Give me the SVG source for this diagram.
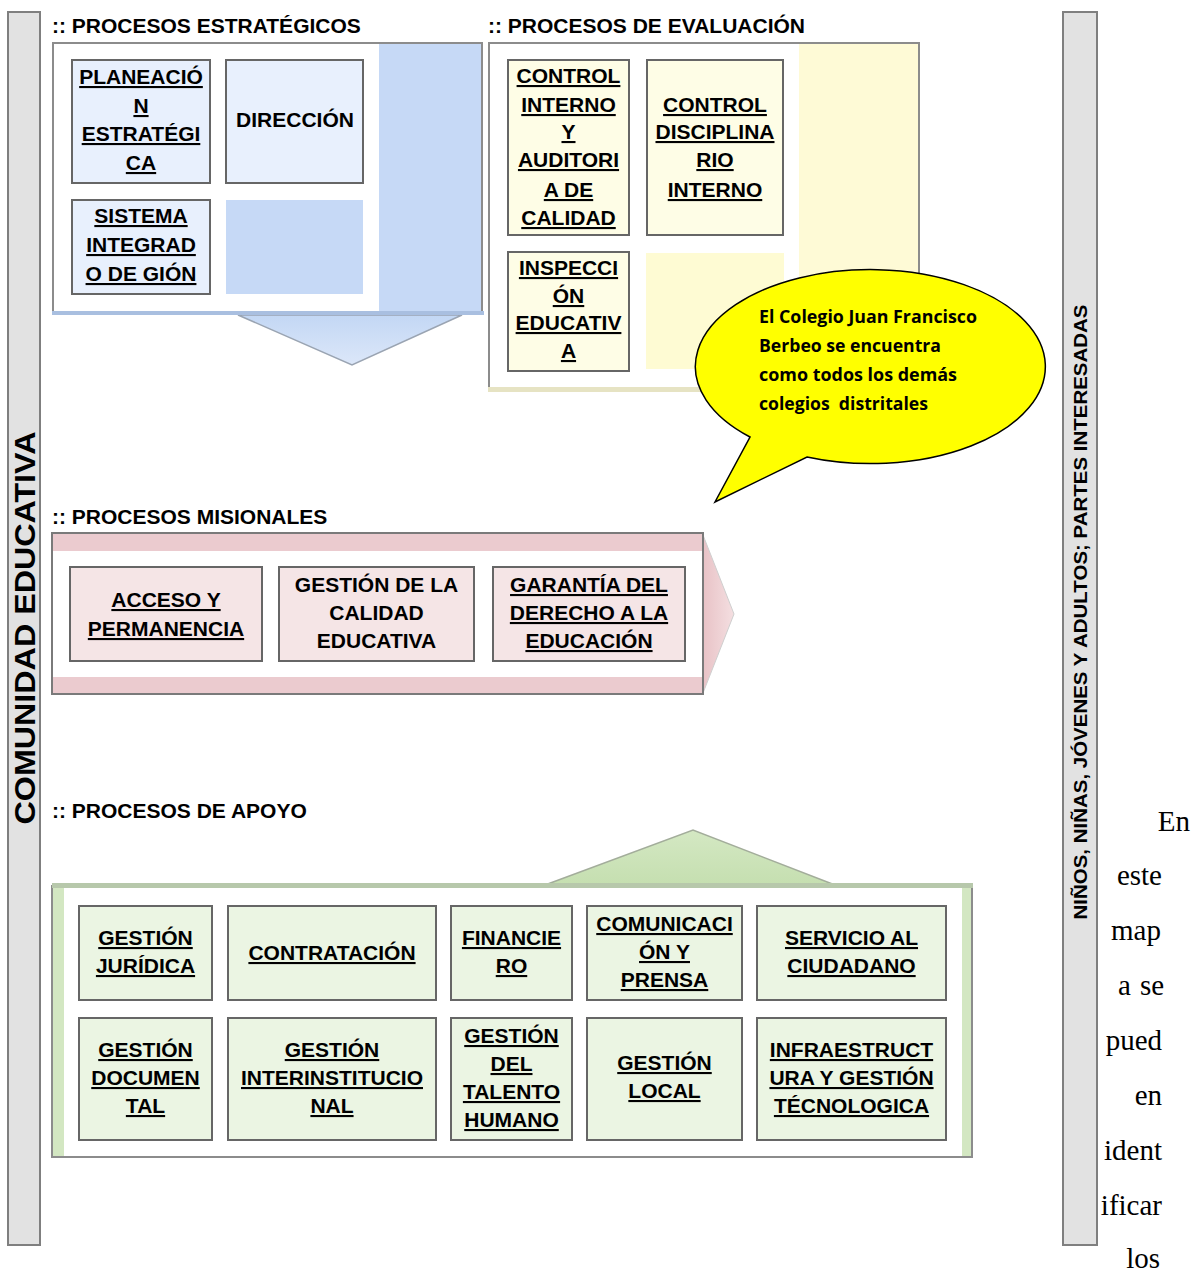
<svg xmlns="http://www.w3.org/2000/svg" width="1193" height="1273" viewBox="0 0 1193 1273">
<defs>
<style>
text{font-family:"Liberation Sans",Arial,Helvetica,sans-serif;font-weight:bold;fill:#000}
.t{font-size:21px;text-anchor:middle}
.u{text-decoration:underline}
.h{font-size:21px}
.box{stroke:#666;stroke-width:2}
.blue{fill:#e8f0fd}
.yel{fill:#fefde6}
.pink{fill:#f5e5e6}
.grn{fill:#ebf5e3}
.frame{fill:#fff;stroke:#8c8c8c;stroke-width:2}
.bar{fill:#e2e2e2;stroke:#7f7f7f;stroke-width:2}
.call{font-family:"Open Sans",Lato,sans-serif;font-weight:bold;font-size:17px;white-space:pre}
.para{font-family:"Liberation Serif","Times New Roman",serif;font-weight:normal;font-size:29px;text-anchor:end}
</style>
<linearGradient id="gBlue" x1="0" y1="0" x2="0" y2="1"><stop offset="0" stop-color="#c3d7f4"/><stop offset="1" stop-color="#dce7f9"/></linearGradient>
<linearGradient id="gPink" x1="0" y1="0" x2="1" y2="0"><stop offset="0" stop-color="#e8c2c6"/><stop offset="1" stop-color="#f4dfe1"/></linearGradient>
<linearGradient id="gGreen" x1="0" y1="0" x2="0" y2="1"><stop offset="0" stop-color="#d4e8c3"/><stop offset="1" stop-color="#c5dfb0"/></linearGradient>
</defs>
<rect width="1193" height="1273" fill="#fff"/>

<!-- side bars -->
<g id="bar-comunidad">
<rect class="bar" x="8" y="12" width="32" height="1233"/>
<text transform="translate(35,628) rotate(-90)" style="font-size:30px;text-anchor:middle" textLength="393" lengthAdjust="spacingAndGlyphs">COMUNIDAD EDUCATIVA</text>
</g>
<g id="bar-partes">
<rect class="bar" x="1063" y="12" width="34" height="1233"/>
<text transform="translate(1087,612) rotate(-90)" style="font-size:18px;text-anchor:middle" textLength="615" lengthAdjust="spacingAndGlyphs">NIÑOS, NIÑAS, JÓVENES Y ADULTOS; PARTES INTERESADAS</text>
</g>

<!-- headers -->
<text class="h" x="52" y="33">:: PROCESOS ESTRATÉGICOS</text>
<text class="h" x="488" y="33">:: PROCESOS DE EVALUACIÓN</text>
<text class="h" x="52" y="524">:: PROCESOS MISIONALES</text>
<text class="h" x="52" y="818">:: PROCESOS DE APOYO</text>

<!-- connectors / flow arrows -->
<g id="connectors">
<polygon points="238,315 352,365 462,315" fill="url(#gBlue)" stroke="#9aa4b2" stroke-width="1.5"/>
<polygon points="703,535 734,614 703,693" fill="url(#gPink)" stroke="#cfcfcf" stroke-width="1"/>
<polygon points="545,885 693,830 835,885" fill="url(#gGreen)" stroke="#a3ad9b" stroke-width="1.5"/>
</g>

<!-- frames -->
<g id="frame-estrategicos">
<rect class="frame" x="53" y="43" width="429" height="269"/>
<rect x="379" y="44" width="102" height="267" fill="#c6d9f6"/>
<rect x="52" y="311" width="432" height="4" fill="#a9bfe0"/>
</g>
<g id="frame-evaluacion">
<rect class="frame" x="489" y="43" width="430" height="345"/>
<rect x="799" y="44" width="119" height="343" fill="#fefad6"/>
<rect x="488" y="387" width="433" height="5" fill="#e6e3c3"/>
</g>
<g id="frame-misionales">
<rect x="52" y="533" width="651" height="161" fill="#fff" stroke="#7a7a7a" stroke-width="2"/>
<rect x="53" y="534" width="649" height="17" fill="#ebcbcf"/>
<rect x="53" y="677" width="649" height="16" fill="#ebcbcf"/>
</g>
<g id="frame-apoyo">
<rect class="frame" x="52" y="886" width="920" height="271"/>
<rect x="53" y="888" width="11" height="268" fill="#d3e7c2"/>
<rect x="962" y="888" width="9" height="268" fill="#d3e7c2"/>
<rect x="52" y="883" width="921" height="5" fill="#b7c8ab"/>
</g>

<!-- estratégicos -->
<g id="n-planeacion">
<rect class="box blue" x="72" y="60" width="138" height="123"/>
<text class="t u" x="141" y="84">PLANEACIÓ</text>
<text class="t u" x="141" y="113">N</text>
<text class="t u" x="141" y="141">ESTRATÉGI</text>
<text class="t u" x="141" y="170">CA</text>
</g>
<g id="n-direccion">
<rect class="box blue" x="226" y="60" width="137" height="123"/>
<text class="t" x="295" y="127">DIRECCIÓN</text>
</g>
<g id="n-sistema">
<rect class="box blue" x="72" y="200" width="138" height="94"/>
<text class="t u" x="141" y="223">SISTEMA</text>
<text class="t u" x="141" y="252">INTEGRAD</text>
<text class="t u" x="141" y="281">O DE GIÓN</text>
</g>
<g id="n-estr-blank">
<rect x="226" y="200" width="137" height="94" fill="#c6d9f6"/>
</g>

<!-- evaluación -->
<g id="n-control-interno">
<rect class="box yel" x="508" y="60" width="121" height="175"/>
<text class="t u" x="568.5" y="83">CONTROL</text>
<text class="t u" x="568.5" y="112">INTERNO</text>
<text class="t u" x="568.5" y="139">Y</text>
<text class="t u" x="568.5" y="167">AUDITORI</text>
<text class="t u" x="568.5" y="197">A DE</text>
<text class="t u" x="568.5" y="225">CALIDAD</text>
</g>
<g id="n-control-disciplinario">
<rect class="box yel" x="647" y="60" width="136" height="175"/>
<text class="t u" x="715" y="112">CONTROL</text>
<text class="t u" x="715" y="139">DISCIPLINA</text>
<text class="t u" x="715" y="167">RIO</text>
<text class="t u" x="715" y="197">INTERNO</text>
</g>
<g id="n-inspeccion">
<rect class="box yel" x="508" y="252" width="121" height="119"/>
<text class="t u" x="568.5" y="275">INSPECCI</text>
<text class="t u" x="568.5" y="303">ÓN</text>
<text class="t u" x="568.5" y="330">EDUCATIV</text>
<text class="t u" x="568.5" y="358">A</text>
</g>
<g id="n-eval-blank">
<rect x="646" y="253" width="138" height="116" fill="#fefbd3"/>
</g>

<!-- callout -->
<g id="callout">
<path d="M750,437 A175,97 0 1 1 807,457 L715,502 Z" fill="#ffff00" stroke="#000" stroke-width="1.5"/>
<text class="call" x="759" y="323" textLength="218" lengthAdjust="spacingAndGlyphs">El Colegio Juan Francisco</text>
<text class="call" x="759" y="352" textLength="182" lengthAdjust="spacingAndGlyphs">Berbeo se encuentra</text>
<text class="call" x="759" y="381" textLength="198" lengthAdjust="spacingAndGlyphs">como todos los demás</text>
<text class="call" x="759" y="410" textLength="169" lengthAdjust="spacingAndGlyphs">colegios  distritales</text>
</g>

<!-- misionales -->
<g id="n-acceso">
<rect class="box pink" x="70" y="567" width="192" height="94"/>
<text class="t u" x="166" y="607">ACCESO Y</text>
<text class="t u" x="166" y="636">PERMANENCIA</text>
</g>
<g id="n-calidad">
<rect class="box pink" x="279" y="567" width="195" height="94"/>
<text class="t" x="376.5" y="592">GESTIÓN DE LA</text>
<text class="t" x="376.5" y="620">CALIDAD</text>
<text class="t" x="376.5" y="648">EDUCATIVA</text>
</g>
<g id="n-garantia">
<rect class="box pink" x="493" y="567" width="192" height="94"/>
<text class="t u" x="589" y="592">GARANTÍA DEL</text>
<text class="t u" x="589" y="620">DERECHO A LA</text>
<text class="t u" x="589" y="648">EDUCACIÓN</text>
</g>

<!-- apoyo -->
<g id="n-juridica">
<rect class="box grn" x="79" y="906" width="133" height="94"/>
<text class="t u" x="145.5" y="945">GESTIÓN</text>
<text class="t u" x="145.5" y="973">JURÍDICA</text>
</g>
<g id="n-contratacion">
<rect class="box grn" x="228" y="906" width="208" height="94"/>
<text class="t u" x="332" y="960">CONTRATACIÓN</text>
</g>
<g id="n-financiero">
<rect class="box grn" x="451" y="906" width="121" height="94"/>
<text class="t u" x="511.5" y="945">FINANCIE</text>
<text class="t u" x="511.5" y="973">RO</text>
</g>
<g id="n-comunicacion">
<rect class="box grn" x="587" y="906" width="155" height="94"/>
<text class="t u" x="664.5" y="931">COMUNICACI</text>
<text class="t u" x="664.5" y="959">ÓN Y</text>
<text class="t u" x="664.5" y="987">PRENSA</text>
</g>
<g id="n-servicio">
<rect class="box grn" x="757" y="906" width="189" height="94"/>
<text class="t u" x="851.5" y="945">SERVICIO AL</text>
<text class="t u" x="851.5" y="973">CIUDADANO</text>
</g>
<g id="n-documental">
<rect class="box grn" x="79" y="1018" width="133" height="122"/>
<text class="t u" x="145.5" y="1057">GESTIÓN</text>
<text class="t u" x="145.5" y="1085">DOCUMEN</text>
<text class="t u" x="145.5" y="1113">TAL</text>
</g>
<g id="n-interinstitucional">
<rect class="box grn" x="228" y="1018" width="208" height="122"/>
<text class="t u" x="332" y="1057">GESTIÓN</text>
<text class="t u" x="332" y="1085">INTERINSTITUCIO</text>
<text class="t u" x="332" y="1113">NAL</text>
</g>
<g id="n-talento">
<rect class="box grn" x="451" y="1018" width="121" height="122"/>
<text class="t u" x="511.5" y="1043">GESTIÓN</text>
<text class="t u" x="511.5" y="1071">DEL</text>
<text class="t u" x="511.5" y="1099">TALENTO</text>
<text class="t u" x="511.5" y="1127">HUMANO</text>
</g>
<g id="n-local">
<rect class="box grn" x="587" y="1018" width="155" height="122"/>
<text class="t u" x="664.5" y="1070">GESTIÓN</text>
<text class="t u" x="664.5" y="1098">LOCAL</text>
</g>
<g id="n-infraestructura">
<rect class="box grn" x="757" y="1018" width="189" height="122"/>
<text class="t u" x="851.5" y="1057">INFRAESTRUCT</text>
<text class="t u" x="851.5" y="1085">URA Y GESTIÓN</text>
<text class="t u" x="851.5" y="1113">TÉCNOLOGICA</text>
</g>

<!-- side paragraph fragment -->
<g id="paragraph">
<text class="para" x="1190" y="831">En</text>
<text class="para" x="1162" y="885">este</text>
<text class="para" x="1161" y="940">map</text>
<text class="para" y="995" style="text-anchor:start"><tspan x="1118">a</tspan><tspan x="1140">se</tspan></text>
<text class="para" x="1162" y="1050">pued</text>
<text class="para" x="1162" y="1105">en</text>
<text class="para" x="1162" y="1160">ident</text>
<text class="para" x="1162" y="1215">ificar</text>
<text class="para" x="1160" y="1268">los</text>
</g>
</svg>
